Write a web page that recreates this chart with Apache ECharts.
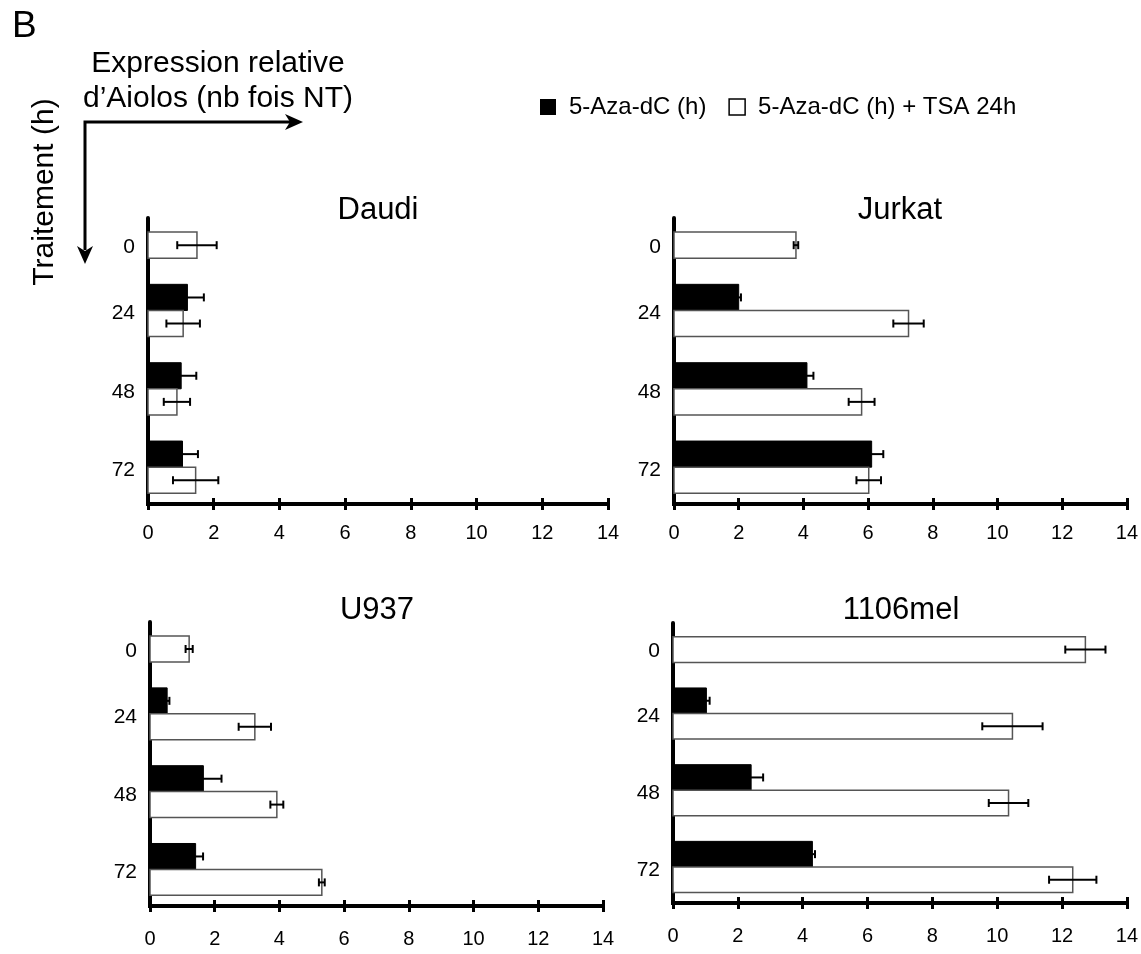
<!DOCTYPE html>
<html><head><meta charset="utf-8">
<script src="https://cdn.jsdelivr.net/npm/echarts@6/dist/echarts.min.js"></script>
<style>html,body{margin:0;padding:0;background:#fff}#c{width:1141px;height:954px}</style>
</head><body><div id="c"></div>
<script>
// ---------- data ----------
const cellLines = ['Daudi', 'Jurkat', 'U937', '1106mel'];
const timeLabels = ['0', '24', '48', '72'];
const seriesNames = ['5-Aza-dC (h)', '5-Aza-dC (h) + TSA 24h'];
const xMin = 0, xMax = 14, xStep = 2;

// 5-Aza-dC alone (black bars); no bar at 0 h
const azaDaudi = [null, 1.20, 1.01, 1.05];
const azaDaudiErr = [null, 0.50, 0.46, 0.47];
const azaJurkat = [null, 2.00, 4.11, 6.11];
const azaJurkatErr = [null, 0.07, 0.20, 0.36];
const azaU937 = [null, 0.53, 1.65, 1.41];
const azaU937Err = [null, 0.07, 0.56, 0.23];
const aza1106 = [null, 1.03, 2.41, 4.30];
const aza1106Err = [null, 0.10, 0.37, 0.08];

// 5-Aza-dC + TSA 24h (white bars)
const tsaDaudi = [1.49, 1.07, 0.88, 1.45];
const tsaDaudiErr = [0.60, 0.51, 0.40, 0.69];
const tsaJurkat = [3.77, 7.25, 5.80, 6.02];
const tsaJurkatErr = [0.07, 0.47, 0.40, 0.38];
const tsaU937 = [1.21, 3.24, 3.92, 5.31];
const tsaU937Err = [0.11, 0.50, 0.20, 0.09];
const tsa1106 = [12.72, 10.47, 10.35, 12.33];
const tsa1106Err = [0.62, 0.93, 0.61, 0.73];

const panels = [
  { aza: azaDaudi, azaErr: azaDaudiErr, tsa: tsaDaudi, tsaErr: tsaDaudiErr },
  { aza: azaJurkat, azaErr: azaJurkatErr, tsa: tsaJurkat, tsaErr: tsaJurkatErr },
  { aza: azaU937, azaErr: azaU937Err, tsa: tsaU937, tsaErr: tsaU937Err },
  { aza: aza1106, azaErr: aza1106Err, tsa: tsa1106, tsaErr: tsa1106Err }
];

// ---------- layout ----------
const FONT = '"Liberation Sans", Arial, Helvetica, sans-serif';
const grids = [
  { left: 148, top: 218, width: 460, height: 286 },
  { left: 674, top: 218, width: 454, height: 286 },
  { left: 150, top: 622, width: 453, height: 284 },
  { left: 673, top: 623, width: 454, height: 280 }
];
const titlePos = [
  { x: 378, y: 195 }, { x: 900, y: 195 }, { x: 377, y: 595 }, { x: 901, y: 595 }
];
const xLabelMargin = [19, 19, 23, 23];
const BAR = 1 / 3;
const yMin = -0.18, yMax = 3.47;
const labelValues = timeLabels.map((t, i) => i + (i === 0 ? 0.19 : 0.04));

function makeRender(kind) {
  return function (params, api) {
    const cat = api.value(0), val = api.value(1), err = api.value(2);
    const yA = kind === 0 ? cat - BAR : cat;
    const yB = yA + BAR;
    const a = api.coord([0, yA]);
    const b = api.coord([val, yB]);
    const top = Math.min(a[1], b[1]);
    const h = Math.abs(b[1] - a[1]);
    const ym = top + h / 2;
    const xl = api.coord([val - err, yA])[0];
    const xr = api.coord([val + err, yA])[0];
    const cap = 4;
    const es = { stroke: '#000', lineWidth: 2 };
    return {
      type: 'group',
      children: [
        {
          type: 'rect',
          shape: { x: a[0], y: top, width: b[0] - a[0], height: h },
          style: kind === 0 ? { fill: '#000', stroke: '#000', lineWidth: 1 }
                            : { fill: '#fff', stroke: '#555', lineWidth: 1.5 }
        },
        { type: 'line', shape: { x1: xl, y1: ym, x2: xr, y2: ym }, style: es },
        { type: 'line', shape: { x1: xl, y1: ym - cap, x2: xl, y2: ym + cap }, style: es },
        { type: 'line', shape: { x1: xr, y1: ym - cap, x2: xr, y2: ym + cap }, style: es }
      ]
    };
  };
}

function toData(vals, errs) {
  const out = [];
  vals.forEach((v, i) => { if (v != null) out.push([i, v, errs[i]]); });
  return out;
}

const option = {
  backgroundColor: '#fff',
  animation: false,
  textStyle: { fontFamily: FONT },
  title: cellLines.map((name, g) => ({
    text: name, left: titlePos[g].x, top: titlePos[g].y, textAlign: 'center', padding: 0,
    textStyle: { fontSize: 31, fontWeight: 'normal', color: '#000', fontFamily: FONT, lineHeight: 31 }
  })),
  legend: {
    left: 535, top: 90, itemWidth: 16, itemHeight: 16, itemGap: 22, icon: 'rect',
    selectedMode: false,
    textStyle: { fontSize: 24, color: '#000', fontFamily: FONT, padding: [0, 0, 0, 8] },
    data: [
      { name: seriesNames[0], itemStyle: { color: '#000', borderWidth: 0 } },
      { name: seriesNames[1], itemStyle: { color: '#fff', borderColor: '#000', borderWidth: 1.5 } }
    ]
  },
  grid: grids.map(g => Object.assign({ containLabel: false }, g)),
  xAxis: grids.flatMap((g, gi) => [
    {
      type: 'value', gridIndex: gi, min: xMin, max: xMax, interval: xStep, position: 'bottom',
      axisLine: { show: true, onZero: false, lineStyle: { color: '#000', width: 4, cap: 'square' } },
      axisTick: { show: true, inside: false, length: 6, lineStyle: { color: '#000', width: 3 } },
      axisLabel: { fontSize: 20, color: '#000', fontFamily: FONT, margin: xLabelMargin[gi] },
      splitLine: { show: false }
    },
    {
      type: 'value', gridIndex: gi, min: xMin, max: xMax, interval: xStep, position: 'bottom',
      axisLine: { show: false, onZero: false },
      axisTick: { show: true, inside: true, length: 6, lineStyle: { color: '#000', width: 3 } },
      axisLabel: { show: false },
      splitLine: { show: false }
    }
  ]),
  yAxis: grids.map((g, gi) => ({
    type: 'value', gridIndex: gi, inverse: true, min: yMin, max: yMax,
    axisLine: { show: true, onZero: false, lineStyle: { color: '#000', width: 4 } },
    axisTick: { show: false },
    splitLine: { show: false },
    axisLabel: {
      customValues: labelValues,
      formatter: v => timeLabels[Math.round(v - 0.1)] || '',
      fontSize: 21, color: '#000', fontFamily: FONT, margin: 13
    }
  })),
  series: panels.flatMap((p, gi) => [
    {
      type: 'custom', name: seriesNames[0], xAxisIndex: gi * 2, yAxisIndex: gi,
      itemStyle: { color: '#000' },
      encode: { x: 1, y: 0 }, renderItem: makeRender(0), data: toData(p.aza, p.azaErr)
    },
    {
      type: 'custom', name: seriesNames[1], xAxisIndex: gi * 2, yAxisIndex: gi,
      itemStyle: { color: '#fff', borderColor: '#000', borderWidth: 1.5 },
      encode: { x: 1, y: 0 }, renderItem: makeRender(1), data: toData(p.tsa, p.tsaErr)
    }
  ]),
  graphic: [
    { type: 'text', x: 12, y: 27, style: { text: 'B', fontSize: 37, fontFamily: FONT, fill: '#000', textAlign: 'left', textVerticalAlign: 'middle', verticalAlign: 'middle' } },
    { type: 'text', x: 218, y: 81, style: { text: 'Expression relative\nd\u2019Aiolos (nb fois NT)', fontSize: 30, lineHeight: 35, fontFamily: FONT, fill: '#000', align: 'center', textAlign: 'center', verticalAlign: 'middle', textVerticalAlign: 'middle' } },
    { type: 'text', x: 45, y: 192, rotation: Math.PI / 2, style: { text: 'Traitement (h)', fontSize: 30, fontFamily: FONT, fill: '#000', align: 'center', textAlign: 'center', verticalAlign: 'middle', textVerticalAlign: 'middle' } },
    { type: 'polyline', shape: { points: [[85, 250], [85, 122], [292, 122]] }, style: { stroke: '#000', lineWidth: 3, fill: null, lineJoin: 'miter' } },
    { type: 'polygon', shape: { points: [[303, 122], [285, 114], [290, 122], [285, 130]] }, style: { fill: '#000' } },
    { type: 'polygon', shape: { points: [[85, 264], [77, 246], [85, 251], [93, 246]] }, style: { fill: '#000' } }
  ]
};

const chart = echarts.init(document.getElementById('c'), null, { renderer: 'canvas' });
chart.setOption(option);
</script>
</body></html>
